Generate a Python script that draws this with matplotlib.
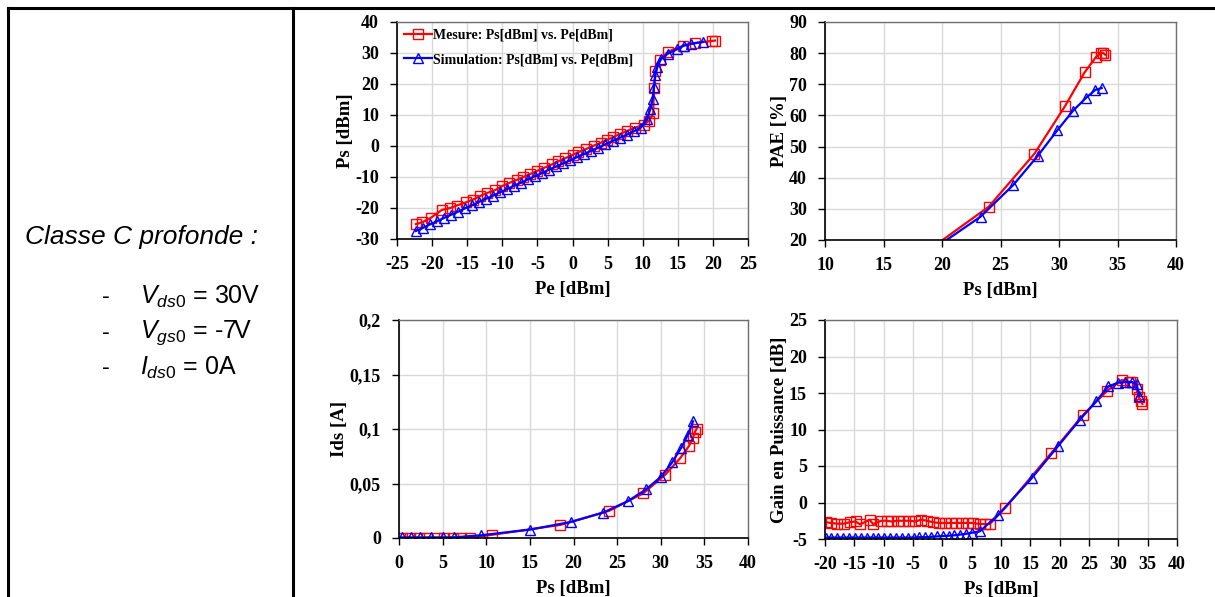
import matplotlib
matplotlib.use("Agg")
import matplotlib.pyplot as plt
from matplotlib.lines import Line2D

# ---- Ps vs Pe ----
pe_mes = [-22.3, -21.4, -20.2, -18.6, -17.4, -16.5, -15.2, -14.2, -13.2, -12.2, -11.0,
          -10.0, -9.1, -7.9, -7.0, -6.0, -5.0, -4.0, -2.9, -2.0, -1.0, 0.0, 0.8, 1.9,
          3.0, 4.0, 4.9, 5.8, 6.8, 7.7, 8.9, 10.2, 10.9, 11.5, 11.6, 11.8, 12.4, 13.6,
          15.8, 17.5, 19.9, 20.3]
ps_mes = [-25.2, -24.6, -23.2, -20.6, -20.0, -19.2, -18.2, -17.3, -16.2, -15.2, -14.2,
          -12.9, -12.0, -10.9, -10.0, -9.0, -8.0, -7.0, -5.9, -4.9, -3.9, -2.9, -2.0, -1.0,
          0.1, 1.0, 1.9, 2.9, 3.9, 4.8, 5.9, 6.9, 8.2, 10.6, 18.7, 24.1, 27.8, 30.4,
          32.4, 33.2, 33.9, 34.0]
pe_sim = [-22.3, -21.3, -20.3, -19.3, -18.3, -17.3, -16.3, -15.3, -14.3, -13.3, -12.3,
          -11.3, -10.3, -9.3, -8.3, -7.3, -6.3, -5.3, -4.3, -3.3, -2.3, -1.3, -0.3, 0.7,
          1.7, 2.7, 3.7, 4.7, 5.7, 6.7, 7.7, 8.7, 9.7, 10.6, 11.1, 11.4, 11.6, 11.8,
          12.1, 12.6, 13.6, 14.9, 15.9, 16.9, 18.6]
ps_sim = [-27.4, -26.4, -25.3, -24.3, -23.2, -22.2, -21.2, -20.1, -19.1, -18.0, -17.0,
          -16.0, -14.9, -13.9, -12.8, -11.8, -10.7, -9.7, -8.7, -7.6, -6.6, -5.6, -4.6,
          -3.5, -2.5, -1.5, -0.5, 0.6, 1.6, 2.6, 3.6, 4.7, 5.9, 8.6, 12.0, 15.0, 19.0,
          22.8, 25.6, 28.0, 29.8, 31.2, 32.4, 33.0, 33.6]

# ---- PAE vs Ps ----
ps_pae_mes = [18.5, 24.0, 27.9, 30.5, 32.2, 33.15, 33.6, 33.8, 33.95]
pae_mes = [15.8, 30.7, 47.7, 62.9, 73.9, 78.7, 80.2, 80.0, 79.5]
ps_pae_sim = [19.7, 23.3, 26.1, 28.2, 29.85, 31.2, 32.3, 33.1, 33.65]
pae_sim = [18.2, 27.5, 37.7, 47.1, 55.2, 61.5, 65.6, 68.2, 68.8]

# ---- Ids vs Ps ----
ps_ids_mes = [0.3, 1.3, 2.3, 3.2, 4.3, 5.2, 6.2, 7.1, 8.1, 10.7, 18.5, 24.1, 28.0,
              30.5, 32.2, 33.2, 33.7, 33.9, 34.1]
ids_mes = [0.0002, 0.0002, 0.0002, 0.0002, 0.0002, 0.0002, 0.0002, 0.0002, 0.0003,
           0.003, 0.012, 0.025, 0.041, 0.058, 0.073, 0.084, 0.092, 0.097, 0.100]
ps_ids_sim = [0.3, 1.4, 2.4, 3.7, 5.0, 6.3, 9.4, 15.0, 19.7, 23.4, 26.2, 28.3, 30.0,
              31.3, 32.35, 33.1, 33.7]
ids_sim = [0.0005, 0.0005, 0.0005, 0.0005, 0.0005, 0.0006, 0.0025, 0.0077, 0.0147,
           0.0233, 0.0337, 0.0445, 0.056, 0.0693, 0.0828, 0.0945, 0.107]

# ---- Gain vs Ps ----
ps_gain_mes = [-19.8, -19.0, -17.9, -16.8, -15.8, -14.8, -14.0, -12.4, -11.8, -10.4,
               -9.5, -8.7, -7.6, -6.7, -5.6, -4.6, -3.6, -2.6, -1.6, -0.6, 0.4, 1.5,
               2.4, 3.4, 4.4, 5.2, 6.4, 7.2, 8.1, 10.7, 18.6, 24.0, 28.1, 30.6, 32.0,
               32.4, 33.1, 33.5, 33.9, 34.1]
gain_mes = [-2.7, -2.8, -2.9, -2.9, -2.7, -2.6, -3.0, -2.35, -2.95, -2.5, -2.5, -2.6,
            -2.5, -2.5, -2.5, -2.6, -2.35, -2.5, -2.7, -2.8, -2.8, -2.8, -2.8, -2.8,
            -2.8, -2.8, -2.95, -2.95, -2.95, -0.75, 6.8, 12.0, 15.3, 16.8, 16.5, 16.5,
            15.5, 14.4, 13.9, 13.5]
ps_gain_sim = [-19.9, -18.9, -17.9, -16.9, -15.9, -14.9, -13.9, -12.9, -11.9, -10.9,
               -9.9, -8.9, -7.9, -6.9, -5.9, -4.9, -3.9, -2.9, -1.9, -0.9, 0.1, 1.1,
               2.0, 3.0, 4.0, 5.0, 6.4, 9.5, 15.2, 19.8, 23.4, 26.2, 28.3, 29.9, 31.2,
               32.3, 33.1, 33.6]
gain_sim = [-4.8, -4.8, -4.8, -4.8, -4.8, -4.8, -4.8, -4.8, -4.8, -4.8, -4.8, -4.8,
            -4.8, -4.8, -4.8, -4.8, -4.75, -4.75, -4.7, -4.65, -4.6, -4.55, -4.5, -4.4,
            -4.3, -4.15, -3.95, -1.7, 3.3, 7.8, 11.3, 13.85, 15.9, 16.4, 16.5, 16.5,
            16.2, 14.6]

plt.rcParams['font.family'] = ['Liberation Serif', 'DejaVu Serif']
plt.rcParams['axes.unicode_minus'] = False
plt.rcParams['mathtext.fontset'] = 'custom'
plt.rcParams['mathtext.it'] = 'Liberation Sans:italic'
plt.rcParams['mathtext.rm'] = 'Liberation Sans'

W, H = 1215, 597
fig = plt.figure(figsize=(W / 100, H / 100), dpi=100)


def add_ax(l, t, r, b):
    return fig.add_axes([l / W, 1 - b / H, (r - l) / W, (b - t) / H])


def style(ax, xlim, ylim, xstep, ystep, xlabel, ylabel, yfmt=None):
    ax.set_xlim(*xlim)
    ax.set_ylim(*ylim)
    ax.set_xticks(list(range(xlim[0], xlim[1] + 1, xstep)))
    if yfmt is None:
        ax.set_yticks(list(range(ylim[0], ylim[1] + 1, ystep)))
    else:
        ax.set_yticks(ystep)
        ax.set_yticklabels(yfmt)
    ax.grid(True, color='#d9d9d9', linewidth=1.0)
    ax.set_axisbelow(True)
    for s in ['top', 'right']:
        ax.spines[s].set_color('#707070')
        ax.spines[s].set_linewidth(1.0)
    for s in ['left', 'bottom']:
        ax.spines[s].set_color('black')
        ax.spines[s].set_linewidth(1.2)
    ax.tick_params(direction='out', length=5, width=1, labelsize=13,
                   top=False, right=False)
    ax.tick_params(axis='x', pad=7)
    ax.tick_params(axis='y', pad=8)
    for lab in ax.get_xticklabels() + ax.get_yticklabels():
        lab.set_fontweight('bold')
    ax.set_xlabel(xlabel, fontsize=13.5, fontweight='bold', labelpad=6)
    ax.set_ylabel(ylabel, fontsize=13.5, fontweight='bold', labelpad=1)


red = dict(color='#ff0000', marker='s', mfc='none', ms=6.5, mew=1.0, lw=1.6)
blue = dict(color='#0000ff', marker='^', mfc='none', ms=6.5, mew=1.0, lw=1.6)

ax1 = add_ax(397, 22, 748, 239)
ax1.plot(pe_mes, ps_mes, label='Mesure: Ps[dBm] vs. Pe[dBm]', **red)
ax1.plot(pe_sim, ps_sim, label='Simulation: Ps[dBm] vs. Pe[dBm]', **blue)
style(ax1, (-25, 25), (-30, 40), 5, 10, 'Pe [dBm]', 'Ps [dBm]')
ax1.legend(loc='upper left', frameon=False, prop={'size': 10, 'weight': 'bold'},
           handlelength=2.0, handletextpad=0.1, borderaxespad=0.2,
           labelspacing=0.8, borderpad=0.3)

ax2 = add_ax(825, 22, 1176, 240)
ax2.plot(ps_pae_mes, pae_mes, **red)
ax2.plot(ps_pae_sim, pae_sim, **blue)
style(ax2, (10, 40), (20, 90), 5, 10, 'Ps [dBm]', 'PAE [%]')

ax3 = add_ax(399, 320, 748, 538)
ax3.plot(ps_ids_mes, ids_mes, **red)
ax3.plot(ps_ids_sim, ids_sim, **blue)
style(ax3, (0, 40), (0, 0.2), 5, [0, 0.05, 0.1, 0.15, 0.2], 'Ps [dBm]', 'Ids [A]',
      yfmt=['0', '0,05', '0,1', '0,15', '0,2'])

ax4 = add_ax(825, 320, 1177, 539)
ax4.plot(ps_gain_mes, gain_mes, **red)
ax4.plot(ps_gain_sim, gain_sim, **blue)
style(ax4, (-20, 40), (-5, 25), 5, 5, 'Ps [dBm]', 'Gain en Puissance [dB]')

# table borders
for xs, ys in [((8, 1215), (8, 8)), ((8, 8), (8, 597)), ((293, 293), (8, 597))]:
    fig.add_artist(Line2D([x / W for x in xs], [1 - y / H for y in ys],
                          color='black', lw=2.2, transform=fig.transFigure))

sans = ['Liberation Sans', 'DejaVu Sans']
fig.text(25 / W, 1 - 237 / H, 'Classe C profonde :', family=sans, style='italic',
         fontsize=19, va='center', ha='left')
rows = [(r'$\mathit{V}_{\mathit{ds0}}$', ' = 30V', 297),
        (r'$\mathit{V}_{\mathit{gs0}}$', ' = -7V', 333),
        (r'$\mathit{I}_{\mathit{ds0}}$', ' = 0A', 368)]
for sym, val, y in rows:
    fig.text(102 / W, 1 - y / H, '-', family=sans, fontsize=17, va='center', ha='left')
    fig.text(140 / W, 1 - y / H, sym + val, family=sans, fontsize=18,
             va='center', ha='left')

fig.savefig('out.png', dpi=100)
